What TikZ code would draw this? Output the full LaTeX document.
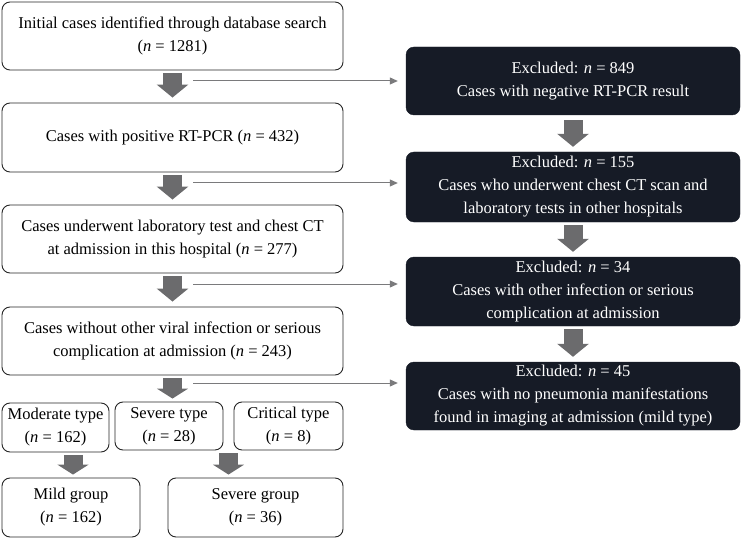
\documentclass[tikz,border=0pt]{standalone}
\usepackage{fontspec}
\setmainfont{Liberation Serif}
\usetikzlibrary{arrows.meta,calc}
\definecolor{darkbox}{HTML}{161B26}
\definecolor{arrowgray}{HTML}{6B6B6D}
\definecolor{linegray}{HTML}{7A7A7C}
\begin{document}
\begin{tikzpicture}[x=1pt,y=-1pt,
  every node/.style={font=\fontsize{16.5}{23}\selectfont, align=center, inner sep=0pt},
  whitebox/.style={draw=black!85, line width=0.9pt, rounded corners=8pt, fill=white},
  darkbox/.style={fill=darkbox, draw=darkbox, rounded corners=8pt, text=white},
  blockarrow/.style={draw=arrowgray, line width=19pt, -{Triangle[width=31pt,length=13pt]}, shorten <=3pt, shorten >=5pt},
  smallblock/.style={draw=arrowgray, line width=19pt, -{Triangle[width=31pt,length=10pt]}, shorten <=3pt, shorten >=3pt},
  thinarrow/.style={draw=linegray, line width=1pt, -{Triangle[width=7pt,length=8pt]}, shorten >=8pt}]
\useasboundingbox (0,0) rectangle (741,540);

% left column
\node[whitebox, minimum width=341pt, minimum height=68pt] (b1) at (172.5,36) {Initial cases identified through database search\\(\textit{n} = 1281)};
\node[whitebox, minimum width=341pt, minimum height=69pt] (b2) at (172.5,137.5) {Cases with positive RT-PCR (\textit{n} = 432)};
\node[whitebox, minimum width=341pt, minimum height=68pt] (b3) at (172.5,239) {Cases underwent laboratory test and chest CT\\at admission in this hospital (\textit{n} = 277)};
\node[whitebox, minimum width=341pt, minimum height=68pt] (b4) at (172.5,341) {Cases without other viral infection or serious\\complication at admission (\textit{n} = 243)};

\node[whitebox, minimum width=107pt, minimum height=49pt] (mod) at (55.5,427.5) {Moderate type\\(\textit{n} = 162)};
\node[whitebox, minimum width=108pt, minimum height=48pt] (sevt) at (169,426) {Severe type\\(\textit{n} = 28)};
\node[whitebox, minimum width=109pt, minimum height=48pt] (crit) at (288.5,426) {Critical type\\(\textit{n} = 8)};

\node[whitebox, minimum width=138pt, minimum height=59pt] (mild) at (71,507.5) {Mild group\\(\textit{n} = 162)};
\node[whitebox, minimum width=175pt, minimum height=59pt] (sevg) at (255.5,507.5) {Severe group\\(\textit{n} = 36)};

% right column
\node[darkbox, minimum width=334pt, minimum height=68pt] (d1) at (573,81) {Excluded: \textit{n} = 849\\Cases with negative RT-PCR result};
\node[darkbox, minimum width=334pt, minimum height=70pt] (d2) at (573,187) {Excluded: \textit{n} = 155\\Cases who underwent chest CT scan and\\laboratory tests in other hospitals};
\node[darkbox, minimum width=334pt, minimum height=69pt] (d3) at (573,291.5) {Excluded: \textit{n} = 34\\Cases with other infection or serious\\complication at admission};
\node[darkbox, minimum width=334pt, minimum height=68pt] (d4) at (573,396) {Excluded: \textit{n} = 45\\Cases with no pneumonia manifestations\\found in imaging at admission (mild type)};

% block arrows, left column
\draw[blockarrow] (b1.south) -- (b2.north);
\draw[blockarrow] (b2.south) -- (b3.north);
\draw[blockarrow] (b3.south) -- (b4.north);
\draw[smallblock] (b4.south) -- (b4.south |- sevt.north);
\coordinate (modarr) at (73,452);
\draw[smallblock] (modarr) -- (modarr |- mild.north);
\coordinate (sevarr) at ($(sevt.south east)!0.5!(crit.south west)$);
\draw[smallblock] (sevarr) -- (sevarr |- sevg.north);

% block arrows, right column
\draw[blockarrow, shorten <=5pt] (d1.south) -- (d2.north);
\draw[blockarrow] (d2.south) -- (d3.north);
\draw[blockarrow] (d3.south) -- (d4.north);

% thin connectors
\coordinate (c1) at (193,81);
\coordinate (c2) at (193,183);
\coordinate (c3) at (193,284);
\coordinate (c4) at (193,383);
\draw[thinarrow] (c1) -- (c1 -| d1.west);
\draw[thinarrow] (c2) -- (c2 -| d2.west);
\draw[thinarrow] (c3) -- (c3 -| d3.west);
\draw[thinarrow] (c4) -- (c4 -| d4.west);
\end{tikzpicture}
\end{document}
